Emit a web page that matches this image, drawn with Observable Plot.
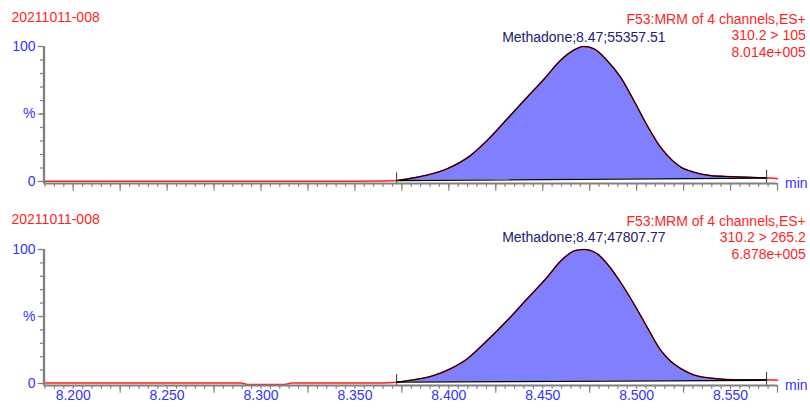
<!DOCTYPE html>
<html><head><meta charset="utf-8">
<script src="https://cdn.jsdelivr.net/npm/d3@7"></script>
<script src="https://cdn.jsdelivr.net/npm/@observablehq/plot@0.6"></script>
<style>
body{margin:0;background:#fff;}
svg{display:block;}
</style>
</head><body><div id="chart"></div>
<script>
// ---------- data ----------
const sampleName = "20211011-008";
const xLabelTicks = [8.200, 8.250, 8.300, 8.350, 8.400, 8.450, 8.500, 8.550];
const yLabelTicks = [0, 50, 100];
const yLabelText = ["0", "%", "100"];

// Panel 1: 310.2 > 105
const headerTop = ["F53:MRM of 4 channels,ES+", "310.2 > 105", "8.014e+005"];
const peakLabelTop = "Methadone;8.47;55357.51";
const timeTop = [8.1845, 8.250, 8.300, 8.350, 8.365, 8.3722, 8.3814, 8.3991, 8.4116, 8.4204, 8.4311, 8.4417, 8.4524, 8.4577, 8.4648, 8.4719, 8.4772, 8.4843, 8.4914, 8.4985, 8.5056, 8.5127, 8.5190, 8.5234, 8.5305, 8.5394, 8.5482, 8.5571, 8.5692, 8.5750];
const pctTop  = [0.2, 0.2, 0.2, 0.2, 0.3, 0.7, 2.7, 9.4, 19.3, 30.4, 46.4, 62.4, 78.5, 87.2, 95.8, 100, 98.3, 89.6, 77.3, 60.0, 41.5, 25.4, 15.6, 10.8, 6.9, 4.4, 3.7, 3.2, 2.7, 2.0];
const integTimeTop = [8.3722, 8.5692];
const integPctTop = [0.7, 2.5];

// Panel 2: 310.2 > 265.2
const headerBottom = ["F53:MRM of 4 channels,ES+", "310.2 > 265.2", "6.878e+005"];
const peakLabelBottom = "Methadone;8.47;47807.77";
const timeBottom = [8.1845, 8.250, 8.2892, 8.2928, 8.3125, 8.3166, 8.350, 8.365, 8.3722, 8.3814, 8.3920, 8.4009, 8.4098, 8.4186, 8.4311, 8.4417, 8.4524, 8.4595, 8.4675, 8.4719, 8.4790, 8.4843, 8.4914, 8.4985, 8.5056, 8.5127, 8.5181, 8.5234, 8.5305, 8.5394, 8.5482, 8.5571, 8.5692, 8.5750];
const pctBottom  = [0.3, 0.3, 0.3, -0.8, -0.8, 0.3, 0.3, 0.4, 1.0, 2.8, 6.0, 11.0, 18.4, 29.6, 47.0, 63.2, 79.3, 91.3, 99.3, 100, 96.8, 89.3, 75.6, 59.5, 42.0, 25.0, 16.6, 11.2, 6.4, 4.0, 3.0, 2.8, 2.8, 2.5];
const integTimeBottom = [8.3722, 8.5692];
const integPctBottom = [1.0, 2.4];

// ---------- drawing ----------
const xMin = 8.18445, xMax = 8.575;
const RED = "#ff1f1f", BLUE = "#3333ff", NAVY = "#202078", GRAY = "#808080";
const FONT = "'Liberation Sans', Arial, sans-serif";

const minorX = d3.range(0, 79).map(i => +(8.185 + i * 0.005).toFixed(3));
const allMajorX = d3.range(0, 16).map(i => +(8.2 + i * 0.025).toFixed(3));
const minorY = d3.range(0, 11).map(i => i * 10);

function panel(o) {
  const H = o.height - o.mt - o.mb;
  const yLow = -200 / (H - 2);
  const trace = o.time.map((t, i) => ({t, p: o.pct[i]}));
  const [t0, t1] = o.integTime, [b0, b1] = o.integPct;
  const base = t => b0 + (t - t0) / (t1 - t0) * (b1 - b0);
  const peak = trace.filter(d => d.t >= t0 - 1e-9 && d.t <= t1 + 1e-9).map(d => ({...d, b: base(d.t)}));
  const integ = o.integTime.map((t, i) => ({t, b: o.integPct[i]}));
  const apex = d3.greatest(trace, d => d.p);
  return Plot.plot({
    width: 810, height: o.height,
    marginLeft: 43.5, marginRight: 33, marginTop: o.mt, marginBottom: o.mb,
    x: {domain: [xMin, xMax], axis: null},
    y: {domain: [yLow, 100], axis: null},
    style: {fontFamily: FONT, fontSize: "14px", background: "white", overflow: "visible"},
    marks: [
      Plot.areaY(peak, {x: "t", y1: "b", y2: "p", fill: "#8080ff", curve: "monotone-x"}),
      Plot.line(trace, {x: "t", y: "p", stroke: RED, strokeWidth: 1.5, curve: "monotone-x"}),
      Plot.line(peak, {x: "t", y: "p", stroke: "#000", strokeWidth: 1.15, curve: "monotone-x"}),
      Plot.line(integ, {x: "t", y: "b", stroke: "#000", strokeWidth: 1.3}),
      Plot.ruleX(integ, {x: "t", y1: yLow, y2: d => d.b + 5.7, stroke: "#333", strokeWidth: 1}),
      // axes
      Plot.axisX(minorX, {anchor: "bottom", tickSize: 3.7, stroke: GRAY, strokeWidth: 1.2, tickFormat: () => "", label: null}),
      Plot.axisX(o.majorX, {anchor: "bottom", tickSize: 7.7, stroke: GRAY, strokeWidth: 1.2, tickFormat: () => "", label: null}),
      o.showXLabels ? Plot.axisX(xLabelTicks, {anchor: "bottom", tickSize: 0, tickPadding: 4.3, fill: BLUE, fontSize: 14, tickFormat: d3.format(".3f"), label: null}) : null,
      Plot.axisY(minorY, {anchor: "left", tickSize: 3.5, stroke: GRAY, strokeWidth: 1.2, tickFormat: () => "", label: null}),
      Plot.axisY(yLabelTicks, {anchor: "left", tickSize: 5.8, tickPadding: 2.7, stroke: GRAY, strokeWidth: 1.2, fill: BLUE, fontSize: 14,
        tickFormat: d => yLabelText[yLabelTicks.indexOf(d)], label: null}),
      Plot.ruleY([yLow], {stroke: GRAY, strokeWidth: 2}),
      Plot.ruleX([xMin], {stroke: GRAY, strokeWidth: 2.3}),
      // texts
      Plot.text([sampleName], {frameAnchor: "top-left", textAnchor: "start", lineAnchor: "top",
        dx: 11 - 43.5, dy: o.headerY - o.mt, fill: RED, fontSize: 14}),
      Plot.text([o.header.join("\n")], {frameAnchor: "top-right", textAnchor: "end", lineAnchor: "top",
        lineHeight: 1.18, dx: 28.3, dy: o.headerY - o.mt, fill: RED, fontSize: 14}),
      Plot.text([o.peakLabel], {x: apex.t, y: 100, textAnchor: "middle", lineAnchor: "top", dy: o.labelDy, fill: NAVY, fontSize: 14}),
      Plot.text(["min"], {x: xMax, y: 0, textAnchor: "start", lineAnchor: "middle", dx: 7.5, dy: 2.5, fill: BLUE, fontSize: 14})
    ]
  });
}

const root = document.getElementById("chart");
root.append(panel({
  time: timeTop, pct: pctTop, integTime: integTimeTop, integPct: integPctTop,
  header: headerTop, peakLabel: peakLabelTop, height: 204, mt: 46, mb: 21,
  headerY: 11.6, labelDy: -14.6, showXLabels: false, majorX: allMajorX
}));
root.append(panel({
  time: timeBottom, pct: pctBottom, integTime: integTimeBottom, integPct: integPctBottom,
  header: headerBottom, peakLabel: peakLabelBottom, height: 205, mt: 45, mb: 24,
  headerY: 9.4, labelDy: -17.3, showXLabels: true,
  majorX: allMajorX.filter(v => Math.round(v * 1000) % 50 !== 0)
}));
</script></body></html>
